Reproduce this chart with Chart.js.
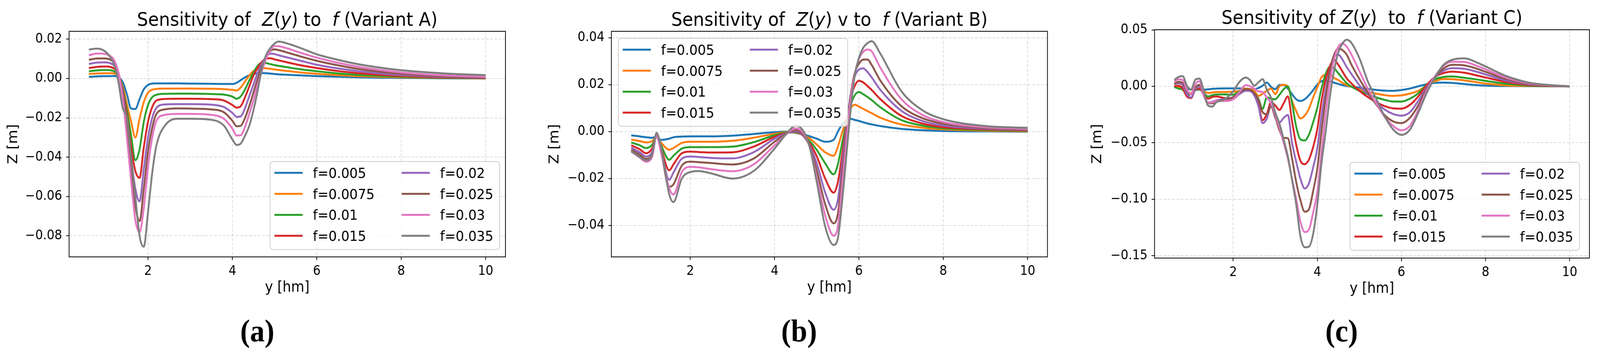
<!DOCTYPE html>
<html>
<head>
<meta charset="utf-8">
<script src="https://cdn.jsdelivr.net/npm/chart.js"></script>
<style>
  html, body { margin: 0; padding: 0; background: #fff; overflow: hidden; width: 100vw; height: 100vh; }
  canvas { position: absolute; top: 0; }
</style>
</head>
<body>
<canvas id="ca" width="1460" height="913" style="left:0;width:33.3409vw;height:100vh"></canvas>
<canvas id="cb" width="1460" height="913" style="left:33.3409vw;width:33.3409vw;height:100vh"></canvas>
<canvas id="cc" width="1459" height="913" style="left:66.6819vw;width:33.3181vw;height:100vh"></canvas>
<script>
// ---- data ----
var fLabels = ['f=0.005','f=0.0075','f=0.01','f=0.015','f=0.02','f=0.025','f=0.03','f=0.035']
var xTicks = [2,4,6,8,10]
var yTicksA = [-0.08,-0.06,-0.04,-0.02,0,0.02]
var yTicksB = [-0.04,-0.02,0,0.02,0.04]
var yTicksC = [-0.15,-0.10,-0.05,0,0.05]

var titleA = [['Sensitivity of  ',0],['Z',1],['(',0],['y',1],[') to  ',0],['f',1],[' (Variant A)',0]]
var titleB = [['Sensitivity of  ',0],['Z',1],['(',0],['y',1],[') v to  ',0],['f',1],[' (Variant B)',0]]
var titleC = [['Sensitivity of ',0],['Z',1],['(',0],['y',1],[')  to  ',0],['f',1],[' (Variant C)',0]]

// panel (a)
var xA = [0.6,0.8,1.0,1.1,1.2,1.3,1.4,1.5,1.6,1.7,1.8,1.9,2.0,2.1,2.2,2.4,2.7,3.0,3.5,3.8,4.0,4.1,4.2,4.3,4.4,4.5,4.6,4.7,4.8,4.9,5.0,5.1,5.3,5.6,6.0,6.5,7.0,7.5,8.0,9.0,10.0]
var A_005 = [0.0008,0.0011,0.0012,0.0012,0.0013,0.0006,-0.0018,-0.0080,-0.0153,-0.0155,-0.0105,-0.0055,-0.0033,-0.0026,-0.0025,-0.0025,-0.0025,-0.0026,-0.0027,-0.0028,-0.0028,-0.0022,-0.0008,0.0006,0.0016,0.0023,0.0027,0.0028,0.0027,0.0025,0.0023,0.0021,0.0019,0.0016,0.0012,0.0009,0.0006,0.0004,0.0003,0.0001,0.0000]
var A_0075 = [0.0023,0.0026,0.0027,0.0027,0.0025,0.0012,-0.0040,-0.0130,-0.0220,-0.0300,-0.0205,-0.0120,-0.0072,-0.0057,-0.0053,-0.0051,-0.0051,-0.0051,-0.0052,-0.0054,-0.0058,-0.0061,-0.0045,-0.0015,0.0015,0.0038,0.0050,0.0054,0.0052,0.0049,0.0046,0.0043,0.0038,0.0031,0.0024,0.0017,0.0012,0.0009,0.0006,0.0003,0.0001]
var A_01 = [0.0037,0.0041,0.0043,0.0042,0.0036,0.0015,-0.0050,-0.0160,-0.0290,-0.0415,-0.0360,-0.0220,-0.0135,-0.0095,-0.0083,-0.0078,-0.0077,-0.0077,-0.0079,-0.0082,-0.0092,-0.0103,-0.0090,-0.0055,-0.0010,0.0030,0.0065,0.0080,0.0078,0.0073,0.0068,0.0064,0.0057,0.0047,0.0037,0.0026,0.0018,0.0013,0.0009,0.0004,0.0002]
var A_015 = [0.0053,0.0059,0.0061,0.0059,0.0050,0.0020,-0.0060,-0.0190,-0.0350,-0.0470,-0.0505,-0.0350,-0.0220,-0.0145,-0.0112,-0.0104,-0.0103,-0.0103,-0.0105,-0.0112,-0.0135,-0.0148,-0.0140,-0.0095,-0.0040,0.0015,0.0055,0.0085,0.0102,0.0103,0.0097,0.0092,0.0082,0.0068,0.0053,0.0038,0.0027,0.0019,0.0013,0.0006,0.0003]
var A_02 = [0.0074,0.0081,0.0082,0.0078,0.0065,0.0025,-0.0070,-0.0220,-0.0400,-0.0560,-0.0625,-0.0460,-0.0300,-0.0200,-0.0150,-0.0132,-0.0130,-0.0130,-0.0133,-0.0145,-0.0175,-0.0195,-0.0192,-0.0150,-0.0090,-0.0030,0.0030,0.0075,0.0110,0.0126,0.0124,0.0118,0.0107,0.0091,0.0070,0.0051,0.0037,0.0026,0.0018,0.0009,0.0005]
var A_025 = [0.0095,0.0102,0.0102,0.0096,0.0080,0.0030,-0.0080,-0.0250,-0.0460,-0.0650,-0.0725,-0.0560,-0.0370,-0.0250,-0.0180,-0.0157,-0.0152,-0.0153,-0.0157,-0.0172,-0.0215,-0.0243,-0.0240,-0.0200,-0.0140,-0.0070,0.0000,0.0060,0.0110,0.0140,0.0148,0.0144,0.0132,0.0113,0.0090,0.0067,0.0048,0.0034,0.0024,0.0012,0.0007]
var A_03 = [0.0118,0.0127,0.0124,0.0115,0.0093,0.0030,-0.0100,-0.0300,-0.0520,-0.0720,-0.0780,-0.0660,-0.0450,-0.0300,-0.0215,-0.0185,-0.0180,-0.0180,-0.0185,-0.0205,-0.0255,-0.0290,-0.0288,-0.0245,-0.0180,-0.0110,-0.0030,0.0040,0.0100,0.0145,0.0165,0.0164,0.0153,0.0132,0.0106,0.0080,0.0059,0.0043,0.0031,0.0016,0.0009]
var A_035 = [0.0147,0.0152,0.0135,0.0110,0.0070,-0.0020,-0.0150,-0.0200,-0.0400,-0.0600,-0.0800,-0.0855,-0.0680,-0.0480,-0.0340,-0.0240,-0.0205,-0.0205,-0.0210,-0.0240,-0.0310,-0.0338,-0.0330,-0.0290,-0.0240,-0.0160,-0.0060,0.0050,0.0120,0.0155,0.0178,0.0188,0.0178,0.0156,0.0123,0.0095,0.0072,0.0055,0.0042,0.0026,0.0017]

// panel (b)
var xB = [0.6,0.8,0.95,1.1,1.2,1.3,1.5,1.6,1.8,2.0,2.2,2.5,3.0,3.5,4.0,4.3,4.5,4.8,5.0,5.2,5.4,5.5,5.6,5.8,5.9,6.0,6.1,6.2,6.3,6.5,7.0,7.5,8.0,9.0,10.0]
var B_005 = [-0.0016,-0.0020,-0.0024,-0.0026,-0.0022,-0.0035,-0.0030,-0.0024,-0.0021,-0.0020,-0.0020,-0.0020,-0.0017,-0.0010,-0.0002,0.0000,-0.0005,-0.0018,-0.0030,-0.0043,-0.0035,0.0000,0.0030,0.0055,0.0050,0.0046,0.0040,0.0035,0.0031,0.0024,0.0012,0.0006,0.0003,0.0001,0.0000]
var B_0075 = [-0.0034,-0.0040,-0.0046,-0.0040,-0.0022,-0.0045,-0.0077,-0.0070,-0.0048,-0.0043,-0.0043,-0.0043,-0.0039,-0.0026,-0.0009,-0.0002,-0.0004,-0.0025,-0.0055,-0.0088,-0.0103,-0.0065,-0.0005,0.0098,0.0115,0.0107,0.0097,0.0088,0.0079,0.0060,0.0031,0.0017,0.0010,0.0004,0.0002]
var B_01 = [-0.0046,-0.0058,-0.0070,-0.0055,-0.0022,-0.0055,-0.0120,-0.0103,-0.0072,-0.0066,-0.0066,-0.0066,-0.0064,-0.0045,-0.0015,-0.0004,-0.0003,-0.0035,-0.0078,-0.0135,-0.0182,-0.0140,-0.0050,0.0110,0.0155,0.0169,0.0160,0.0148,0.0135,0.0105,0.0050,0.0026,0.0014,0.0007,0.0004]
var B_015 = [-0.0058,-0.0075,-0.0092,-0.0070,-0.0020,-0.0065,-0.0165,-0.0140,-0.0092,-0.0085,-0.0087,-0.0089,-0.0088,-0.0064,-0.0022,-0.0005,0.0000,-0.0042,-0.0105,-0.0200,-0.0260,-0.0215,-0.0100,0.0140,0.0195,0.0217,0.0210,0.0195,0.0178,0.0140,0.0068,0.0035,0.0019,0.0010,0.0006]
var B_02 = [-0.0068,-0.0088,-0.0106,-0.0085,-0.0018,-0.0072,-0.0205,-0.0175,-0.0115,-0.0106,-0.0108,-0.0112,-0.0114,-0.0088,-0.0030,-0.0006,0.0002,-0.0048,-0.0135,-0.0260,-0.0333,-0.0290,-0.0140,0.0155,0.0235,0.0265,0.0270,0.0255,0.0232,0.0180,0.0090,0.0046,0.0026,0.0013,0.0008]
var B_025 = [-0.0077,-0.0098,-0.0116,-0.0095,-0.0016,-0.0078,-0.0235,-0.0225,-0.0145,-0.0128,-0.0130,-0.0134,-0.0140,-0.0115,-0.0043,-0.0007,0.0008,-0.0050,-0.0165,-0.0310,-0.0391,-0.0350,-0.0185,0.0150,0.0250,0.0290,0.0307,0.0308,0.0285,0.0220,0.0110,0.0058,0.0034,0.0016,0.0010]
var B_03 = [-0.0085,-0.0110,-0.0128,-0.0105,-0.0015,-0.0085,-0.0240,-0.0268,-0.0172,-0.0150,-0.0152,-0.0160,-0.0169,-0.0140,-0.0058,-0.0008,0.0014,-0.0048,-0.0195,-0.0357,-0.0444,-0.0405,-0.0230,0.0135,0.0245,0.0310,0.0340,0.0350,0.0343,0.0275,0.0140,0.0072,0.0041,0.0019,0.0012]
var B_035 = [-0.0082,-0.0108,-0.0122,-0.0095,-0.0005,-0.0060,-0.0266,-0.0300,-0.0200,-0.0172,-0.0168,-0.0178,-0.0200,-0.0168,-0.0072,-0.0005,0.0026,-0.0045,-0.0215,-0.0405,-0.0483,-0.0455,-0.0300,0.0087,0.0240,0.0314,0.0357,0.0377,0.0386,0.0335,0.0174,0.0092,0.0053,0.0024,0.0016]

// panel (c)
var xC = [0.6,0.7,0.8,0.9,1.0,1.1,1.2,1.3,1.4,1.5,1.6,1.8,2.0,2.15,2.3,2.4,2.5,2.6,2.7,2.8,2.9,3.0,3.1,3.2,3.3,3.4,3.5,3.6,3.7,3.8,3.9,4.0,4.1,4.2,4.3,4.4,4.5,4.6,4.7,4.8,5.0,5.2,5.4,5.6,5.8,6.0,6.2,6.4,6.6,6.8,7.0,7.2,7.5,7.8,8.0,8.5,9.0,9.5,10.0]
var C_005 = [0.0000,0.0000,-0.0010,-0.0020,-0.0030,-0.0030,-0.0030,-0.0030,-0.0027,-0.0023,-0.0020,-0.0018,-0.0018,-0.0018,-0.0020,-0.0025,-0.0025,-0.0015,0.0005,0.0033,-0.0005,-0.0025,0.0012,0.0013,-0.0020,-0.0070,-0.0115,-0.0130,-0.0115,-0.0080,-0.0035,0.0015,0.0045,0.0052,0.0045,0.0032,0.0020,0.0010,0.0002,-0.0003,-0.0013,-0.0023,-0.0032,-0.0038,-0.0040,-0.0033,-0.0020,0.0000,0.0018,0.0030,0.0033,0.0030,0.0020,0.0010,0.0006,0.0002,0.0001,0.0000,0.0000]
var C_0075 = [-0.0005,-0.0010,-0.0020,-0.0050,-0.0060,-0.0030,-0.0026,-0.0040,-0.0060,-0.0055,-0.0050,-0.0050,-0.0048,-0.0040,-0.0020,-0.0025,-0.0040,-0.0085,-0.0065,-0.0040,-0.0020,-0.0070,0.0000,0.0013,0.0000,-0.0130,-0.0220,-0.0285,-0.0260,-0.0200,-0.0100,-0.0010,0.0080,0.0102,0.0103,0.0075,0.0055,0.0030,0.0010,-0.0003,-0.0028,-0.0048,-0.0065,-0.0078,-0.0085,-0.0080,-0.0065,-0.0040,0.0005,0.0045,0.0065,0.0063,0.0052,0.0035,0.0024,0.0008,0.0003,0.0001,0.0000]
var C_01 = [-0.0007,-0.0020,-0.0030,-0.0075,-0.0070,-0.0035,-0.0026,-0.0060,-0.0090,-0.0080,-0.0072,-0.0072,-0.0075,-0.0045,-0.0026,-0.0035,-0.0060,-0.0110,-0.0200,-0.0098,-0.0110,-0.0115,-0.0075,-0.0026,0.0000,-0.0150,-0.0360,-0.0470,-0.0480,-0.0430,-0.0320,-0.0190,-0.0020,0.0110,0.0172,0.0160,0.0115,0.0070,0.0027,0.0000,-0.0040,-0.0070,-0.0098,-0.0120,-0.0135,-0.0135,-0.0110,-0.0062,0.0015,0.0063,0.0082,0.0087,0.0075,0.0060,0.0048,0.0022,0.0008,0.0002,0.0000]
var C_015 = [0.0000,0.0005,-0.0020,-0.0090,-0.0104,-0.0030,-0.0020,-0.0070,-0.0110,-0.0095,-0.0090,-0.0105,-0.0110,-0.0065,-0.0030,-0.0040,-0.0070,-0.0150,-0.0300,-0.0245,-0.0140,-0.0170,-0.0210,-0.0150,-0.0090,-0.0310,-0.0520,-0.0660,-0.0690,-0.0650,-0.0540,-0.0380,-0.0130,0.0060,0.0180,0.0234,0.0190,0.0130,0.0070,0.0030,-0.0040,-0.0095,-0.0140,-0.0175,-0.0195,-0.0198,-0.0165,-0.0090,0.0010,0.0083,0.0117,0.0130,0.0120,0.0095,0.0078,0.0038,0.0014,0.0004,0.0000]
var C_02 = [0.0020,0.0026,0.0010,-0.0070,-0.0098,-0.0026,0.0000,-0.0080,-0.0143,-0.0138,-0.0125,-0.0115,-0.0110,-0.0068,-0.0040,-0.0042,-0.0080,-0.0176,-0.0326,-0.0286,-0.0170,-0.0280,-0.0320,-0.0280,-0.0254,-0.0500,-0.0670,-0.0820,-0.0905,-0.0860,-0.0720,-0.0550,-0.0260,-0.0030,0.0140,0.0260,0.0280,0.0235,0.0170,0.0115,0.0010,-0.0068,-0.0140,-0.0205,-0.0245,-0.0260,-0.0230,-0.0130,-0.0010,0.0080,0.0137,0.0160,0.0155,0.0128,0.0105,0.0050,0.0020,0.0006,0.0000]
var C_025 = [0.0020,0.0040,0.0030,-0.0045,-0.0070,-0.0007,0.0013,-0.0080,-0.0150,-0.0150,-0.0135,-0.0118,-0.0095,-0.0055,-0.0026,-0.0030,-0.0060,-0.0120,-0.0228,-0.0247,-0.0180,-0.0270,-0.0390,-0.0456,-0.0460,-0.0640,-0.0850,-0.1010,-0.1110,-0.1090,-0.0930,-0.0730,-0.0400,-0.0100,0.0140,0.0280,0.0335,0.0320,0.0280,0.0200,0.0065,-0.0055,-0.0160,-0.0255,-0.0310,-0.0326,-0.0280,-0.0170,-0.0025,0.0080,0.0156,0.0190,0.0185,0.0155,0.0128,0.0063,0.0025,0.0008,0.0000]
var C_03 = [0.0040,0.0062,0.0055,-0.0030,-0.0070,0.0020,0.0045,-0.0080,-0.0145,-0.0140,-0.0130,-0.0130,-0.0115,-0.0050,0.0010,0.0000,-0.0020,-0.0045,-0.0050,-0.0100,-0.0150,-0.0250,-0.0370,-0.0500,-0.0640,-0.0820,-0.1000,-0.1200,-0.1290,-0.1270,-0.1120,-0.0935,-0.0580,-0.0240,0.0040,0.0240,0.0350,0.0378,0.0350,0.0290,0.0135,-0.0020,-0.0150,-0.0270,-0.0350,-0.0390,-0.0350,-0.0210,-0.0040,0.0090,0.0180,0.0218,0.0215,0.0180,0.0150,0.0075,0.0030,0.0010,0.0000]
var C_035 = [0.0056,0.0083,0.0090,0.0005,-0.0028,0.0058,0.0068,-0.0040,-0.0170,-0.0180,-0.0142,-0.0115,-0.0045,0.0040,0.0078,0.0055,0.0005,0.0035,0.0063,-0.0030,-0.0100,-0.0230,-0.0330,-0.0470,-0.0620,-0.0830,-0.1050,-0.1330,-0.1425,-0.1420,-0.1310,-0.1050,-0.0680,-0.0400,-0.0090,0.0140,0.0300,0.0380,0.0413,0.0390,0.0250,0.0045,-0.0110,-0.0265,-0.0380,-0.0430,-0.0385,-0.0235,-0.0060,0.0080,0.0189,0.0234,0.0247,0.0210,0.0176,0.0090,0.0035,0.0012,0.0000]

var colors = ['#1f77b4','#ff7f0e','#2ca02c','#d62728','#9467bd','#8c564b','#e377c2','#7f7f7f']

Chart.defaults.font.family = "'DejaVu Sans'"
Chart.defaults.color = '#000'

// frame, legend box, title with italic parts, panel letter
var decor = {
    id: 'decor',
    afterDatasetsDraw(chart, args, o) {
        var ctx = chart.ctx, a = chart.chartArea
        ctx.save()
        ctx.strokeStyle = '#000'
        ctx.lineWidth = 2
        ctx.strokeRect(a.left, a.top, a.right - a.left, a.bottom - a.top)

        // legend
        ctx.fillStyle = 'rgba(255,255,255,0.8)'
        ctx.strokeStyle = '#cccccc'
        ctx.lineWidth = 2
        ctx.beginPath()
        ctx.roundRect(o.lx, o.ly, 628, 225, 8)
        ctx.fill()
        ctx.stroke()
        ctx.font = "36px 'DejaVu Sans'"
        ctx.textBaseline = 'alphabetic'
        ctx.textAlign = 'left'
        chart.data.datasets.forEach(function(ds, i){
            var col = Math.floor(i / 4), row = i % 4
            var x0 = o.lx + 12 + col * 348
            var y0 = o.ly + 29 + row * 53.7
            ctx.strokeStyle = ds.borderColor
            ctx.lineWidth = 5
            ctx.beginPath()
            ctx.moveTo(x0, y0)
            ctx.lineTo(x0 + 77, y0)
            ctx.stroke()
            ctx.fillStyle = '#000'
            ctx.fillText(ds.label, x0 + 105, y0 + 13)
        })
        ctx.restore()
    },
    afterDraw(chart, args, o) {
        var ctx = chart.ctx, a = chart.chartArea
        ctx.save()
        ctx.fillStyle = '#000'
        ctx.textBaseline = 'alphabetic'
        ctx.textAlign = 'left'
        var fontOf = function(s){ return (s[1] ? 'italic ' : '') + "48px 'DejaVu Sans'" }
        var total = 0
        o.title.forEach(function(s){ ctx.font = fontOf(s); total += ctx.measureText(s[0]).width })
        var x = (a.left + a.right) / 2 - total / 2
        o.title.forEach(function(s){
            ctx.font = fontOf(s)
            ctx.fillText(s[0], x, o.ty)
            x += ctx.measureText(s[0]).width
        })
        ctx.font = "bold 80px 'Liberation Serif'"
        ctx.textAlign = 'center'
        ctx.fillText(o.letter, o.letterX, 873)
        ctx.restore()
    }
}

function pts(xs, ys) {
    return xs.map(function(x, i){ return {x: x, y: ys[i]} })
}

function fmtY(v) {
    var s = Math.abs(v).toFixed(2)
    return (v < -1e-9 ? '\u2212' : '') + s
}

function makePanel(id, xs, zs, yTicks, c) {
    var gridOpts = { color: 'rgba(176,176,176,0.6)', lineWidth: 1.5, tickLength: 8, tickColor: '#000', tickWidth: 2, tickBorderDash: [] }
    return new Chart(document.getElementById(id), {
        type: 'line',
        plugins: [decor],
        data: {
            datasets: zs.map(function(z, i){
                return {
                    label: fLabels[i],
                    data: pts(xs, z),
                    borderColor: colors[i],
                    backgroundColor: colors[i],
                    borderWidth: 5,
                    pointRadius: 0,
                    cubicInterpolationMode: 'monotone',
                    order: 7 - i
                }
            })
        },
        options: {
            responsive: false,
            animation: false,
            devicePixelRatio: 1,
            layout: { padding: c.pad },
            plugins: {
                legend: { display: false },
                tooltip: { enabled: false },
                title: { display: false },
                decor: { lx: c.lx, ly: c.ly, title: c.title, ty: c.ty, letter: c.letter, letterX: c.letterX }
            },
            scales: {
                x: {
                    type: 'linear',
                    min: 0.13,
                    max: 10.47,
                    afterBuildTicks: function(s){ s.ticks = xTicks.map(function(v){ return {value: v} }) },
                    afterFit: function(s){ s.height = c.xh },
                    ticks: { font: { size: 33 }, color: '#000', padding: 10, maxRotation: 0, autoSkip: false,
                             callback: function(v){ return String(v) } },
                    grid: gridOpts,
                    border: { display: false, dash: [8, 4] },
                    title: { display: true, text: 'y [hm]', font: { size: 37 }, color: '#000', padding: 0 }
                },
                y: {
                    type: 'linear',
                    min: c.ymin,
                    max: c.ymax,
                    afterBuildTicks: function(s){ s.ticks = yTicks.map(function(v){ return {value: v} }) },
                    afterFit: function(s){ s.width = c.yw },
                    ticks: { font: { size: 33 }, color: '#000', padding: 11, autoSkip: false, callback: fmtY },
                    grid: gridOpts,
                    border: { display: false, dash: [8, 4] },
                    title: { display: true, text: 'Z [m]', font: { size: 37 }, color: '#000', padding: 0 }
                }
            }
        }
    })
}

var chartA = makePanel('ca', xA, [A_005, A_0075, A_01, A_015, A_02, A_025, A_03, A_035], yTicksA, {
    pad: { left: 15, right: 77, top: 80, bottom: 154 }, yw: 174, xh: 102,
    ymin: -0.0907, ymax: 0.0240, lx: 739, ly: 413, title: titleA, ty: 66, letter: '(a)', letterX: 704
})
var chartB = makePanel('cb', xB, [B_005, B_0075, B_01, B_015, B_02, B_025, B_03, B_035], yTicksB, {
    pad: { left: 36, right: 53, top: 80, bottom: 154 }, yw: 177, xh: 102,
    ymin: -0.0534, ymax: 0.0428, lx: 232, ly: 98, title: titleB, ty: 66, letter: '(b)', letterX: 727
})
var chartC = makePanel('cc', xC, [C_005, C_0075, C_01, C_015, C_02, C_025, C_03, C_035], yTicksC, {
    pad: { left: 62, right: 29, top: 76, bottom: 151 }, yw: 178, xh: 102,
    ymin: -0.1521, ymax: 0.0501, lx: 775, ly: 415, title: titleC, ty: 61, letter: '(c)', letterX: 752
})
</script>
</body>
</html>
